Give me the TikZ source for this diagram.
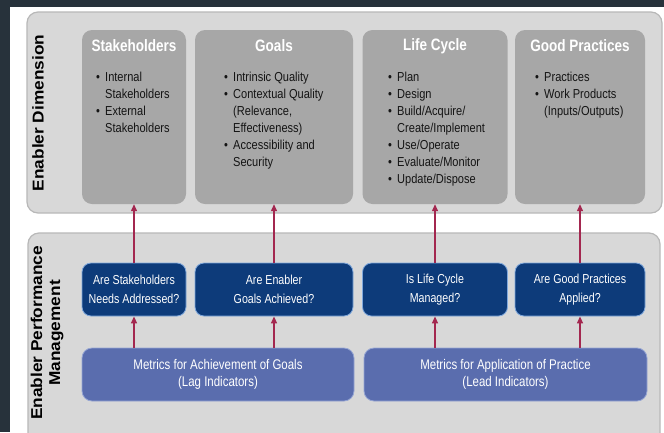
\documentclass[tikz,border=0pt]{standalone}
\usepackage{fontspec}
\setmainfont{Liberation Sans}
\newfontfamily\condfont[FakeStretch=0.82]{Liberation Sans}
\newfontfamily\itemfont[FakeStretch=0.85]{Liberation Sans}
\newfontfamily\sidefont[FakeStretch=1.1]{Liberation Sans}
\usetikzlibrary{arrows.meta}
\definecolor{bgdark}{HTML}{27323B}
\definecolor{panelfill}{HTML}{D8D8D8}
\definecolor{panelline}{HTML}{B8B8B8}
\definecolor{boxgray}{HTML}{A7A7A7}
\definecolor{qblue}{HTML}{0D3B7A}
\definecolor{qedge}{HTML}{7FA8DC}
\definecolor{mblue}{HTML}{5A6DAE}
\definecolor{medge}{HTML}{95A5D3}
\definecolor{arrowred}{HTML}{A3274F}
\definecolor{itemtext}{HTML}{141414}
\tikzset{
  panel/.style={draw=panelline, line width=1.2pt, fill=panelfill, rounded corners=11pt},
  graybox/.style={fill=boxgray, rounded corners=10pt, minimum height=174pt, inner sep=0pt},
  qbox/.style={fill=qblue, draw=qedge, line width=0.8pt, rounded corners=9pt, minimum height=53pt, inner sep=0pt},
  mbox/.style={fill=mblue, draw=medge, line width=0.8pt, rounded corners=10pt, minimum height=53pt, inner sep=0pt},
  titletext/.style={text=white, font=\condfont\bfseries\fontsize{16.5}{18}\selectfont, inner sep=0pt},
  itemlist/.style={text=itemtext, font=\itemfont\fontsize{13}{17}\selectfont, align=left, anchor=north west, inner sep=0pt},
  qtext/.style={text=white, font=\condfont\fontsize{13}{19}\selectfont, align=center, inner sep=0pt},
  mtext/.style={text=white, font=\condfont\fontsize{14}{17}\selectfont, align=center, inner sep=0pt},
  sidetext/.style={text=black, font=\sidefont\bfseries\fontsize{15.7}{18}\selectfont, align=center, rotate=90, inner sep=0pt},
  uparrow/.style={draw=arrowred, line width=1.3pt, -{Triangle[width=6pt,length=7pt]}}
}
\newcommand{\bul}{\makebox[9pt][l]{\textbullet}}
\newcommand{\ind}{\hspace*{9pt}}
\begin{document}
\begin{tikzpicture}[x=1pt,y=-1pt]
\useasboundingbox (0,0) rectangle (664,432);
\fill[bgdark] (0,0) rectangle (664,432);
\fill[white] (10,7) rectangle (664,432);

% panels
\draw[panel] (27,12) rectangle (662,213);
\draw[panel] (28,233) rectangle (660,445);

% side labels
\node[sidetext] (sdim) at (38,113) {Enabler Dimension};
\node[sidetext] (sperf) at (47,333) {Enabler Performance\\Management};

% gray boxes
\node[graybox, minimum width=104pt] (s1) at (134,117) {};
\node[graybox, minimum width=158pt] (s2) at (274,117) {};
\node[graybox, minimum width=145pt] (s3) at (435,117) {};
\node[graybox, minimum width=130pt] (s4) at (580,117) {};

\node[titletext] (t1) at (134,46) {Stakeholders};
\node[titletext] (t2) at (274,46) {Goals};
\node[titletext] (t3) at (435,46) {Life Cycle};
\node[titletext] (t4) at (580,46) {Good Practices};

\node[itemlist] (l1) at (96,72) {\bul Internal\\\ind Stakeholders\\\bul External\\\ind Stakeholders};
\node[itemlist] (l2) at (224,72) {\bul Intrinsic Quality\\\bul Contextual Quality\\\ind (Relevance,\\\ind Effectiveness)\\\bul Accessibility and\\\ind Security};
\node[itemlist] (l3) at (388,72) {\bul Plan\\\bul Design\\\bul Build/Acquire/\\\ind Create/Implement\\\bul Use/Operate\\\bul Evaluate/Monitor\\\bul Update/Dispose};
\node[itemlist] (l4) at (535,72) {\bul Practices\\\bul Work Products\\\ind (Inputs/Outputs)};

% question boxes
\node[qbox, minimum width=104pt] (q1) at (134,289.5) {};
\node[qbox, minimum width=158pt] (q2) at (274,289.5) {};
\node[qbox, minimum width=145pt] (q3) at (435,289.5) {};
\node[qbox, minimum width=130pt] (q4) at (580,289.5) {};
\node[qtext] at (q1) {Are Stakeholders\\Needs Addressed?};
\node[qtext] at (q2) {Are Enabler\\Goals Achieved?};
\node[qtext] at (q3) {Is Life Cycle\\Managed?};
\node[qtext] at (q4) {Are Good Practices\\Applied?};

% metrics boxes
\node[mbox, minimum width=272pt] (m1) at (218,374.5) {};
\node[mbox, minimum width=283pt] (m2) at (505.5,374.5) {};
\node[mtext] at (m1) {Metrics for Achievement of Goals\\(Lag Indicators)};
\node[mtext] at (m2) {Metrics for Application of Practice\\(Lead Indicators)};

% arrows
\draw[uparrow] (q1.north) -- (s1.south);
\draw[uparrow] (q2.north) -- (s2.south);
\draw[uparrow] (q3.north) -- (s3.south);
\draw[uparrow] (q4.north) -- (s4.south);
\draw[uparrow] (q1.south |- m1.north) -- (q1.south);
\draw[uparrow] (q2.south |- m1.north) -- (q2.south);
\draw[uparrow] (q3.south |- m2.north) -- (q3.south);
\draw[uparrow] (q4.south |- m2.north) -- (q4.south);
\end{tikzpicture}
\end{document}
